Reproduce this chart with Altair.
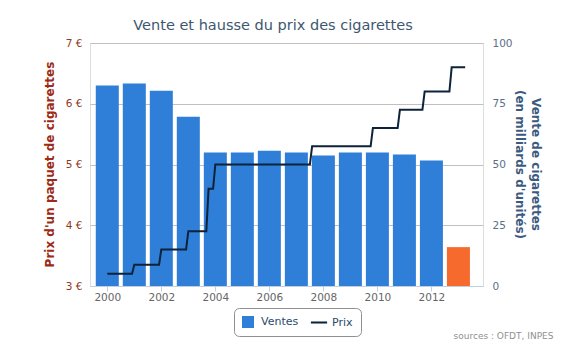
import altair as alt
import pandas as pd

# ---- data ----
annees = list(range(2000, 2014))
ventes = [82.5, 83.3, 80.4, 69.7, 54.9, 54.9, 55.7, 54.9, 53.7, 54.9, 54.9, 54.1, 51.6, 16.0]

prix_mois = ["2000-01", "2000-12", "2001-01", "2001-12", "2002-01", "2002-12",
             "2003-01", "2003-09", "2003-10", "2003-12", "2004-01", "2007-07",
             "2007-08", "2009-10", "2009-11", "2010-10", "2010-11", "2011-09",
             "2011-10", "2012-09", "2012-10", "2013-04"]
prix = [3.20, 3.20, 3.35, 3.35, 3.60, 3.60,
        3.90, 3.90, 4.60, 4.60, 5.00, 5.00,
        5.30, 5.30, 5.60, 5.60, 5.90, 5.90,
        6.20, 6.20, 6.60, 6.60]

series = ["Ventes", "Prix"]
prix_ticks = [3, 4, 5, 6, 7]
ventes_ticks = [0, 25, 50, 75, 100]
annee_ticks = [2000, 2002, 2004, 2006, 2008, 2010, 2012]

BLUE = "#2f7ed8"
DARK = "#0d233a"
ORANGE = "#f76a2e"
FONT = "DejaVu Sans"

df_v = pd.DataFrame({"annee": annees, "ventes": ventes})
df_p = pd.DataFrame({"mois": prix_mois, "prix": prix})
df_p["t"] = df_p["mois"].map(lambda s: int(s[:4]) + (int(s[5:7]) - 1) / 12)
df_l = pd.DataFrame({"serie": series})

xscale = alt.Scale(domain=[1999.36, 2013.91], nice=False, zero=False)
xaxis = alt.Axis(values=annee_ticks, format="d", grid=False,
                 domainColor="#c0d0e0", tickColor="#c0d0e0", tickSize=5,
                 labelFont=FONT, labelFontSize=10.5, labelColor="#666666",
                 labelPadding=1,
                 title="sources : OFDT, INPES", titleFont=FONT, titleFontSize=9,
                 titleFontWeight="normal", titleColor="#909090",
                 titleAlign="right", titleAnchor="end", titleBaseline="alphabetic",
                 titleX=463, titleY=52)

bars = alt.Chart(df_v).transform_calculate(
    x0="datum.annee - 0.426", x1="datum.annee + 0.426"
).mark_bar().encode(
    x=alt.X("x0:Q", scale=xscale, axis=xaxis),
    x2="x1:Q",
    y=alt.Y("ventes:Q", scale=alt.Scale(domain=[0, 100], nice=False, padding=0),
            axis=alt.Axis(orient="right", values=ventes_ticks, grid=False,
                          domain=False, ticks=False, tickSize=0, labelPadding=9,
                          labelFont=FONT, labelFontSize=10.5, labelColor="#5a6f87",
                          title=["Vente de cigarettes", "(en milliards d'unités)"],
                          titleFont=FONT, titleFontSize=12, titleFontWeight="bold",
                          titleColor="#3b5a80", titleAngle=90,
                          titleAlign="center", titleBaseline="alphabetic",
                          titleX=48, titleY=121, titleLineHeight=16)),
    y2=alt.datum(0),
    color=alt.condition("datum.annee == 2013", alt.value(ORANGE), alt.value(BLUE)),
)

line = alt.Chart(df_p).mark_line(color=DARK, strokeWidth=2).encode(
    x=alt.X("t:Q", scale=xscale, axis=xaxis),
    y=alt.Y("prix:Q", scale=alt.Scale(domain=[3, 7], nice=False, zero=False),
            axis=alt.Axis(orient="left", values=prix_ticks, grid=True,
                          gridColor="#c0c0c0", domain=False, ticks=False, tickSize=0,
                          labelPadding=8, labelExpr="datum.value + ' €'",
                          labelFont=FONT, labelFontSize=10.5, labelColor="#8d3a23",
                          title="Prix d'un paquet de cigarettes",
                          titleFont=FONT, titleFontSize=12, titleFontWeight="bold",
                          titleColor="#9c2a14", titleAngle=-90,
                          titleAlign="center", titleBaseline="alphabetic",
                          titleX=-37, titleY=121)),
)

leg = alt.Legend(title=None, orient="none", legendX=144, legendY=265,
                 direction="horizontal", strokeColor="#909090", cornerRadius=5,
                 padding=8, fillColor="white", symbolSize=144, symbolOpacity=1,
                 symbolStrokeWidth=0, labelFont=FONT, labelFontSize=11,
                 labelColor="#274b6d", labelOffset=7, columnPadding=11)

legend_layer = alt.Chart(df_l).mark_point(filled=True, opacity=0).encode(
    color=alt.Color("serie:N", scale=alt.Scale(domain=series, range=[BLUE, DARK]), legend=leg),
    shape=alt.Shape("serie:N", scale=alt.Scale(
        domain=series,
        range=["square", "M-1.35,-0.17L1.35,-0.17L1.35,0.17L-1.35,0.17Z"]), legend=leg),
)

chart = alt.layer(bars, line, legend_layer).resolve_scale(
    y="independent"
).properties(
    width=393, height=243,
    padding={"left": 82, "top": 35, "right": 77, "bottom": 63},
    autosize=alt.AutoSizeParams(type="none"),
    title=alt.TitleParams("Vente et hausse du prix des cigarettes", anchor="middle",
                          frame="group", font=FONT, fontSize=14.5, fontWeight="normal",
                          color="#3E576F", dx=-13.5, dy=16, offset=10,
                          baseline="alphabetic"),
).configure_view(stroke=None).configure(background="white")

chart.save("out.html", embed_options={"renderer": "svg", "actions": False})
